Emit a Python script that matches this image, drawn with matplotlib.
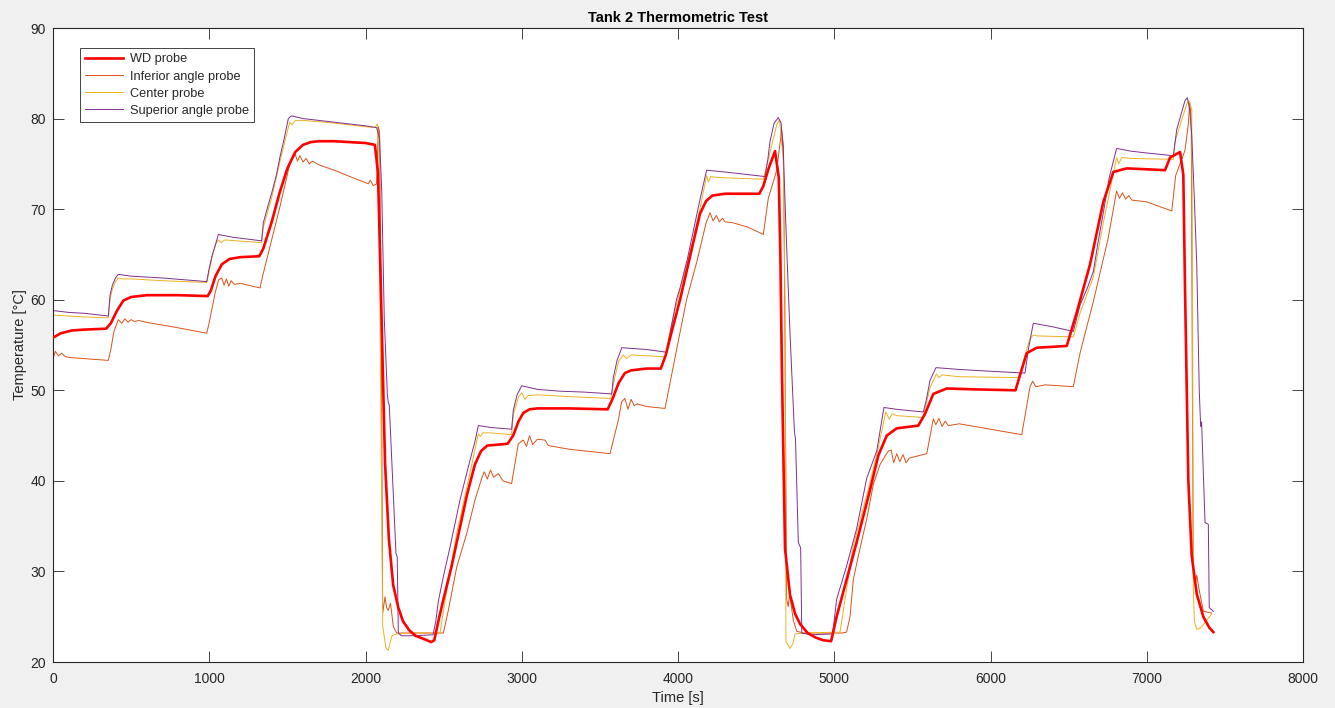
import matplotlib.pyplot as plt

# --- data (time [s], temperature [degC]) ---
wd_t = [0, 50, 120, 200, 340, 370, 410, 450, 500, 600, 800, 990, 1010, 1040, 1080, 1130, 1200, 1320,
        1345, 1400, 1450, 1500, 1550, 1600, 1650, 1700, 1800, 1900, 2000, 2060, 2080, 2100, 2125, 2150,
        2177, 2210, 2240, 2280, 2320, 2380, 2420, 2440, 2470, 2500, 2550, 2600, 2650, 2700, 2740, 2780,
        2850, 2910, 2945, 2980, 3010, 3050, 3100, 3300, 3550, 3580, 3620, 3660, 3700, 3800, 3890, 3920,
        3960, 4013, 4060, 4100, 4141, 4180, 4220, 4300, 4400, 4520, 4545, 4580, 4621, 4645, 4655, 4665,
        4685, 4717, 4750, 4781, 4830, 4880, 4930, 4980, 5015, 5079, 5143, 5229, 5282, 5336, 5400, 5538,
        5581, 5634, 5720, 5900, 6160, 6189, 6232, 6296, 6400, 6488, 6552, 6637, 6722, 6786, 6871, 7000,
        7117, 7149, 7213, 7234, 7245, 7266, 7288, 7320, 7362, 7400, 7426]
wd_T = [55.8, 56.3, 56.6, 56.7, 56.8, 57.4, 58.8, 59.9, 60.3, 60.5, 60.5, 60.4, 61.0, 62.6, 63.9, 64.5, 64.7, 64.8,
        65.6, 68.6, 71.8, 74.5, 76.3, 77.1, 77.4, 77.5, 77.5, 77.4, 77.3, 77.1, 74.0, 60.0, 42.0, 33.5,
        28.5, 26.0, 24.5, 23.5, 22.9, 22.5, 22.2, 22.4, 24.8, 27.0, 30.5, 34.5, 38.5, 41.8, 43.3, 43.9,
        44.0, 44.1, 45.0, 46.6, 47.5, 47.9, 48.0, 48.0, 47.9, 49.0, 50.8, 51.9, 52.2, 52.4, 52.4, 53.8,
        56.5, 60.0, 63.5, 66.5, 69.5, 70.9, 71.5, 71.7, 71.7, 71.7, 72.5, 74.5, 76.4, 73.5, 65.0, 52.2,
        32.5, 27.4, 25.3, 24.2, 23.2, 22.7, 22.4, 22.3, 25.0, 29.1, 33.2, 39.0, 42.8, 45.0, 45.8, 46.1,
        47.4, 49.6, 50.2, 50.1, 50.0, 51.7, 54.1, 54.7, 54.8, 54.9, 58.6, 63.9, 70.8, 74.1, 74.5, 74.4,
        74.3, 75.7, 76.3, 73.8, 61.2, 40.1, 31.7, 27.5, 25.0, 23.8, 23.3]

inf_t = [0, 15, 35, 55, 80, 120, 200, 354, 370, 390, 418, 440, 460, 480, 500, 520, 550, 600, 700, 800,
         984, 1000, 1037, 1060, 1080, 1095, 1110, 1125, 1140, 1160, 1200, 1325, 1340, 1389, 1453, 1517,
         1549, 1565, 1580, 1600, 1620, 1640, 1660, 1700, 1800, 1900, 2018, 2030, 2050, 2071, 2082, 2090,
         2100, 2110, 2125, 2135, 2146, 2160, 2178, 2200, 2300, 2498, 2530, 2584, 2648, 2701, 2744, 2760,
         2780, 2800, 2820, 2850, 2880, 2935, 2978, 3010, 3030, 3050, 3070, 3100, 3149, 3170, 3300, 3565,
         3618, 3640, 3660, 3680, 3700, 3720, 3740, 3800, 3917, 3990, 4055, 4119, 4180, 4205, 4225, 4245,
         4265, 4285, 4300, 4350, 4450, 4546, 4578, 4632, 4663, 4675, 4685, 4695, 4705, 4715, 4738, 4760,
         4800, 5050, 5079, 5101, 5122, 5154, 5208, 5250, 5293, 5346, 5365, 5380, 5400, 5420, 5440, 5460,
         5480, 5500, 5592, 5634, 5650, 5670, 5690, 5710, 5730, 5800, 5900, 6000, 6200, 6253, 6270, 6290,
         6350, 6530, 6573, 6658, 6752, 6807, 6825, 6845, 6865, 6885, 6905, 7000, 7160, 7185, 7245, 7266,
         7275, 7285, 7292, 7298, 7310, 7320, 7335, 7362, 7415]
inf_T = [53.5, 54.3, 53.8, 54.1, 53.7, 53.6, 53.5, 53.3, 54.5, 56.5, 57.8, 57.4, 57.9, 57.5, 57.8, 57.6, 57.7,
         57.5, 57.2, 56.9, 56.3, 57.5, 60.7, 62.2, 62.4, 61.6, 62.3, 61.5, 62.1, 61.7, 61.8, 61.3, 62.5,
         65.9, 70.3, 75.1, 76.1, 75.3, 75.9, 75.2, 75.6, 75.0, 75.3, 74.9, 74.3, 73.6, 72.8, 73.2, 72.6,
         72.8, 79.1, 78.5, 60.0, 25.4, 27.2, 26.0, 25.7, 26.5, 23.9, 23.2, 23.2, 23.2, 25.7, 30.5, 34.2,
         37.9, 40.3, 41.0, 40.2, 41.2, 40.4, 40.8, 40.0, 39.7, 44.1, 44.5, 43.8, 45.0, 44.0, 44.6, 44.5,
         43.9, 43.5, 43.0, 46.7, 48.75, 49.1, 47.9, 49.0, 48.3, 48.5, 48.2, 48.0, 54.4, 60.0, 64.1, 68.5,
         69.6, 68.7, 69.3, 68.6, 69.0, 68.6, 68.5, 68.0, 67.2, 71.2, 74.3, 78.7, 77.0, 55.0, 27.0, 26.1,
         27.5, 24.6, 23.4, 23.2, 23.2, 23.3, 25.0, 29.1, 31.7, 35.8, 39.6, 41.8, 43.3, 43.4, 42.0, 43.0,
         42.1, 42.9, 42.0, 42.5, 42.6, 43.0, 46.85, 46.2, 46.9, 46.0, 46.6, 46.1, 46.3, 46.0, 45.7, 45.1,
         50.4, 51.0, 50.4, 50.6, 50.4, 54.1, 59.8, 66.7, 72.0, 71.2, 71.8, 71.1, 71.5, 71.0, 70.8, 69.8,
         73.7, 76.5, 79.4, 81.8, 80.0, 50.0, 29.3, 28.5, 29.6, 28.0, 25.6, 25.4]

cen_t = [0, 100, 200, 354, 365, 380, 400, 418, 440, 500, 700, 984, 1000, 1020, 1040, 1058, 1075, 1100,
         1335, 1346, 1400, 1453, 1500, 1515, 1530, 1550, 1600, 1800, 2000, 2060, 2076, 2085, 2095, 2110,
         2130, 2146, 2160, 2170, 2200, 2300, 2477, 2509, 2584, 2669, 2722, 2735, 2750, 2800, 2935, 2946,
         2980, 3000, 3020, 3040, 3100, 3300, 3570, 3590, 3620, 3650, 3670, 3700, 3920, 3940, 3990, 4050,
         4100, 4140, 4183, 4195, 4210, 4250, 4546, 4589, 4632, 4650, 4663, 4674, 4685, 4691, 4717, 4735,
         4749, 4800, 5037, 5122, 5208, 5272, 5330, 5352, 5370, 5400, 5568, 5613, 5654, 5670, 5690, 5800,
         6189, 6215, 6250, 6274, 6300, 6530, 6573, 6658, 6722, 6807, 6820, 6840, 6900, 7170, 7181, 7256,
         7270, 7288, 7293, 7298, 7305, 7320, 7340, 7380, 7415]
cen_T = [58.3, 58.2, 58.1, 58.0, 60.0, 61.2, 62.0, 62.4, 62.3, 62.3, 62.1, 61.9, 63.2, 64.8, 66.1, 66.6, 66.3,
         66.6, 66.3, 68.0, 71.3, 75.3, 78.6, 79.6, 79.3, 79.8, 79.8, 79.5, 79.1, 79.0, 79.4, 77.0, 55.0,
         24.0, 21.6, 21.3, 22.3, 22.9, 23.1, 23.2, 23.2, 26.8, 34.2, 40.9, 45.2, 44.9, 45.3, 45.3, 45.1,
         47.3, 49.3, 49.7, 49.0, 49.4, 49.5, 49.3, 49.1, 51.0, 53.2, 53.9, 53.5, 53.9, 53.7, 55.8, 59.5,
         63.5, 66.8, 70.0, 73.7, 73.0, 73.6, 73.5, 73.3, 76.3, 79.3, 79.9, 77.5, 75.3, 60.0, 22.3, 21.5,
         22.0, 23.1, 23.2, 23.3, 32.9, 38.4, 42.9, 47.6, 46.8, 47.4, 47.2, 47.0, 50.3, 51.8, 51.4, 51.7,
         51.5, 51.4, 53.5, 55.6, 56.1, 56.0, 55.9, 58.5, 62.5, 68.5, 75.7, 75.0, 75.7, 75.6, 75.5, 77.5,
         81.6, 82.0, 81.0, 60.0, 28.0, 24.5, 23.6, 23.7, 24.5, 25.3]

sup_t = [0, 100, 200, 354, 365, 380, 400, 418, 500, 700, 984, 1000, 1020, 1037, 1058, 1150, 1335, 1346,
         1370, 1400, 1430, 1453, 1480, 1506, 1525, 1600, 1800, 2000, 2071, 2090, 2104, 2120, 2140, 2146,
         2152, 2160, 2195, 2203, 2210, 2230, 2300, 2432, 2450, 2466, 2498, 2541, 2605, 2669, 2700, 2722,
         2800, 2935, 2946, 2970, 3000, 3100, 3245, 3400, 3576, 3586, 3610, 3640, 3800, 3928, 3949, 3990,
         4013, 4060, 4098, 4140, 4183, 4300, 4557, 4575, 4589, 4615, 4642, 4660, 4674, 4695, 4717, 4745,
         4752, 4770, 4785, 4792, 4850, 4990, 5015, 5079, 5143, 5208, 5272, 5318, 5400, 5570, 5590, 5613,
         5651, 5800, 6000, 6221, 6242, 6274, 6400, 6530, 6573, 6620, 6658, 6690, 6722, 6760, 6807, 6900,
         7000, 7170, 7192, 7220, 7245, 7260, 7275, 7288, 7305, 7320, 7336, 7345, 7351, 7360, 7373, 7394,
         7400, 7426]
sup_T = [58.8, 58.6, 58.5, 58.2, 60.5, 61.6, 62.4, 62.8, 62.6, 62.4, 62.0, 63.5, 65.0, 65.9, 67.2, 66.9, 66.5,
         68.5, 70.0, 71.8, 73.8, 75.8, 77.8, 80.0, 80.3, 80.0, 79.6, 79.2, 79.0, 77.8, 72.0, 58.0, 49.5,
         48.6, 48.4, 45.3, 32.0, 31.6, 23.2, 22.9, 22.9, 23.0, 24.5, 26.7, 29.4, 32.7, 37.9, 42.3, 44.3,
         46.1, 45.9, 45.7, 47.8, 49.5, 50.5, 50.1, 49.9, 49.8, 49.6, 51.4, 53.3, 54.7, 54.5, 54.2, 56.3,
         60.0, 61.3, 64.5, 67.6, 71.0, 74.3, 74.1, 73.6, 75.5, 77.5, 79.5, 80.1, 79.5, 76.3, 66.0, 56.2,
         45.5, 44.6, 33.2, 32.6, 23.2, 23.0, 23.1, 26.9, 30.6, 34.7, 40.3, 43.3, 48.1, 47.9, 47.6, 49.0,
         51.1, 52.5, 52.3, 52.1, 51.9, 54.5, 57.4, 57.0, 56.5, 59.4, 61.3, 63.1, 66.5, 69.6, 73.5, 76.7,
         76.4, 76.2, 75.9, 78.8, 80.5, 82.0, 82.3, 81.0, 78.1, 71.0, 63.9, 50.0, 46.0, 46.5, 42.0, 35.4,
         35.2, 26.0, 25.6]

labels = ['WD probe', 'Inferior angle probe', 'Center probe', 'Superior angle probe']

plt.rcParams['font.family'] = ['Liberation Sans', 'DejaVu Sans']

fig = plt.figure(figsize=(13.35, 7.08), dpi=100, facecolor='#f0f0f0')
ax = fig.add_axes([53 / 1335, 46 / 708, 1250 / 1335, 634 / 708])

ax.plot(wd_t, wd_T, color='#ff0000', lw=1.9, label=labels[0], zorder=5)
ax.plot(inf_t, inf_T, color='#D95319', lw=0.7, label=labels[1])
ax.plot(cen_t, cen_T, color='#EDB120', lw=0.7, label=labels[2])
ax.plot(sup_t, sup_T, color='#7E2F8E', lw=0.7, label=labels[3])

ax.set_xlim(0, 8000)
ax.set_ylim(20, 90)
ax.set_xticks(range(0, 8001, 1000))
ax.set_yticks(range(20, 91, 10))

dark = '#262626'
for s in ax.spines.values():
    s.set_color(dark)
    s.set_linewidth(0.8)
ax.tick_params(direction='in', length=8, width=0.6, top=True, right=True,
               labelsize=10, colors=dark)
ax.tick_params(axis='x', pad=7.5)
ax.tick_params(axis='y', pad=5)

ax.set_title('Tank 2 Thermometric Test', fontsize=10.5, fontweight='bold', color='black', pad=4.5)
ax.set_xlabel('Time [s]', fontsize=10.5, color=dark, labelpad=3)
ax.set_ylabel('Temperature [°C]', fontsize=10.5, color=dark, labelpad=2.5)

leg = ax.legend(loc='upper left', bbox_to_anchor=(0.0216, 0.968), fontsize=9.2,
                fancybox=False, framealpha=1, edgecolor=dark, handlelength=3.0,
                handletextpad=0.5, labelspacing=0.4, borderpad=0.4, borderaxespad=0)
leg.get_frame().set_linewidth(0.6)
for txt in leg.get_texts():
    txt.set_color(dark)

fig.savefig('out.png', dpi=100, facecolor=fig.get_facecolor())
